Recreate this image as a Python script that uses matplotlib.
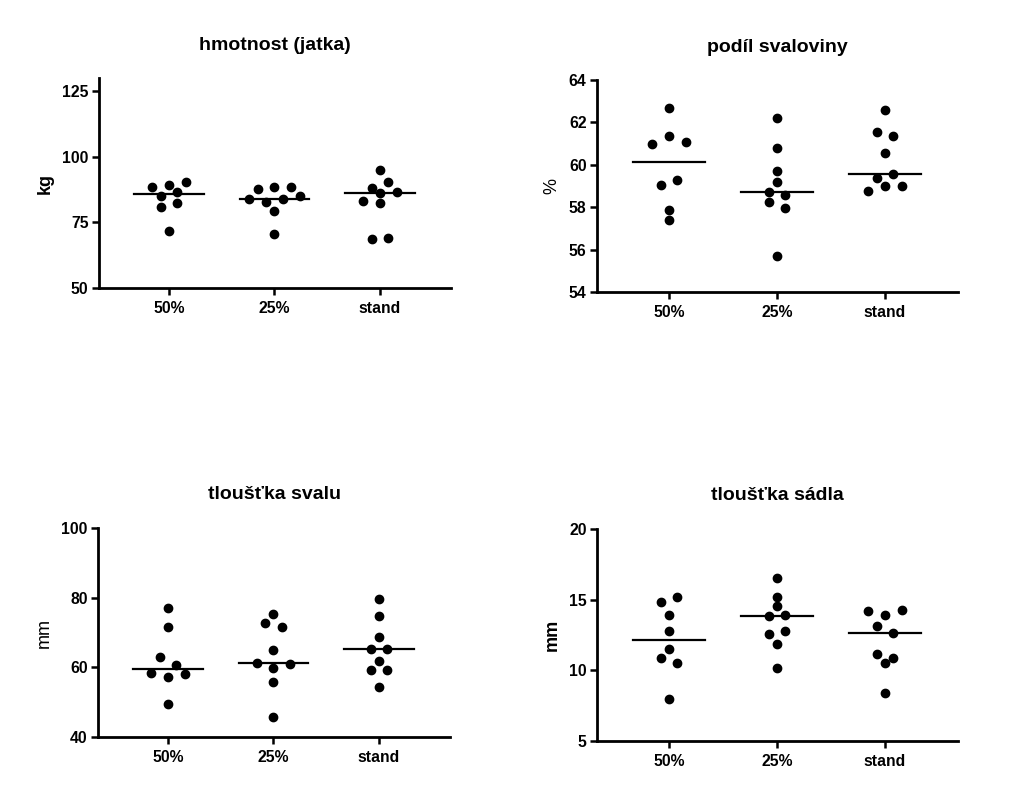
import matplotlib
matplotlib.use("Agg")
import matplotlib.pyplot as plt
import numpy as np

plt.rcParams["font.family"] = ["Liberation Sans", "DejaVu Sans"]

groups = ["50%", "25%", "stand"]
titles = ["hmotnost (jatka)", "podíl svaloviny", "tloušťka svalu", "tloušťka sádla"]
units = ["kg", "%", "mm", "mm"]

# hmotnost (jatka), kg
hmotnost_50 = [88.4, 89.3, 90.2, 85.1, 86.4, 80.7, 82.5, 71.8]
hmotnost_25 = [87.6, 88.6, 88.6, 83.8, 82.9, 83.8, 85.2, 79.5, 70.4]
hmotnost_stand = [95.0, 88.0, 90.3, 83.3, 86.1, 86.4, 82.3, 68.5, 69.1]

# podil svaloviny, %
podil_50 = [62.68, 60.97, 61.36, 61.08, 59.07, 59.26, 57.88, 57.38]
podil_25 = [62.20, 60.77, 59.69, 59.18, 58.70, 58.59, 58.26, 57.96, 55.69]
podil_stand = [62.59, 61.57, 61.36, 60.56, 59.36, 59.58, 58.78, 58.98, 58.98]

# tloustka svalu, mm
sval_50 = [77.0, 71.6, 62.9, 60.8, 58.5, 57.2, 58.1, 49.5]
sval_25 = [75.4, 72.6, 71.6, 64.9, 61.2, 59.9, 61.0, 55.9, 45.7]
sval_stand = [79.6, 74.8, 68.8, 65.4, 65.4, 61.8, 59.1, 59.1, 54.4]

# tloustka sadla, mm
sadlo_50 = [14.8, 15.2, 13.95, 12.75, 11.5, 10.85, 10.5, 7.95]
sadlo_25 = [16.5, 15.2, 14.55, 13.85, 13.9, 12.55, 12.8, 11.85, 10.15]
sadlo_stand = [14.2, 13.9, 14.3, 13.15, 12.65, 11.15, 10.9, 10.5, 8.4]

panels = [
    [hmotnost_50, hmotnost_25, hmotnost_stand],
    [podil_50, podil_25, podil_stand],
    [sval_50, sval_25, sval_stand],
    [sadlo_50, sadlo_25, sadlo_stand],
]
ylims = [(50, 130), (54, 64), (40, 100), (5, 20)]
yticks = [[50, 75, 100, 125], [54, 56, 58, 60, 62, 64], [40, 60, 80, 100], [5, 10, 15, 20]]
label_weights = ["bold", "normal", "normal", "bold"]
title_pads = [20, 20, 21, 21]

W, H = 1024, 805
# axes boxes in pixels: left, top, right, bottom
boxes = [(99, 78, 451, 288), (597, 80, 958, 292), (98, 528, 450, 737), (597, 529, 958, 741)]


def swarm_x(ax, vals, center, step_px=16.7, row_px=8.5):
    # GraphPad-like rows: close values share a row, spread symmetrically
    bbox = ax.get_window_extent()
    y0, y1 = ax.get_ylim()
    x0, x1 = ax.get_xlim()
    px_y = bbox.height / (y1 - y0)
    px_x = bbox.width / (x1 - x0)
    vals = np.asarray(vals, dtype=float)
    order = np.argsort(-vals, kind="stable")
    rows = []
    for i in order:
        if rows and (vals[rows[-1][0]] - vals[i]) * px_y < row_px:
            rows[-1].append(i)
        else:
            rows.append([i])
    xs = np.zeros(len(vals))
    for row in rows:
        row = sorted(row)
        n = len(row)
        for k, i in enumerate(row):
            xs[i] = center + (k - (n - 1) / 2) * step_px / px_x
    return xs


fig = plt.figure(figsize=(W / 100, H / 100), dpi=100)

for p, data in enumerate(panels):
    l, t, r, b = boxes[p]
    ax = fig.add_axes([l / W, (H - b) / H, (r - l) / W, (b - t) / H])
    ax.set_xlim(-0.665, 2.675)
    ax.set_ylim(*ylims[p])
    ax.set_yticks(yticks[p])
    ax.set_xticks(range(len(groups)))
    ax.set_xticklabels(groups)

    for g, vals in enumerate(data):
        xs = swarm_x(ax, vals, g)
        ax.plot(xs, vals, "o", color="black", markersize=6, zorder=3, clip_on=False)
        med = np.median(vals)
        ax.plot([g - 0.33, g + 0.33], [med, med], color="black", linewidth=1.6, zorder=2)

    for side in ["top", "right"]:
        ax.spines[side].set_visible(False)
    for side in ["left", "bottom"]:
        ax.spines[side].set_linewidth(2.0)
    ax.tick_params(axis="y", direction="out", length=5, width=1.8, pad=2.5, labelsize=11.3)
    ax.tick_params(axis="x", direction="out", length=5, width=1.8, pad=4.5, labelsize=11.3)
    for lab in ax.get_xticklabels() + ax.get_yticklabels():
        lab.set_fontweight("bold")

    ax.set_title(titles[p], fontsize=14, fontweight="bold", pad=title_pads[p])
    ax.set_ylabel(units[p], fontsize=13, fontweight=label_weights[p], labelpad=6)

fig.savefig("out.png", dpi=100)
